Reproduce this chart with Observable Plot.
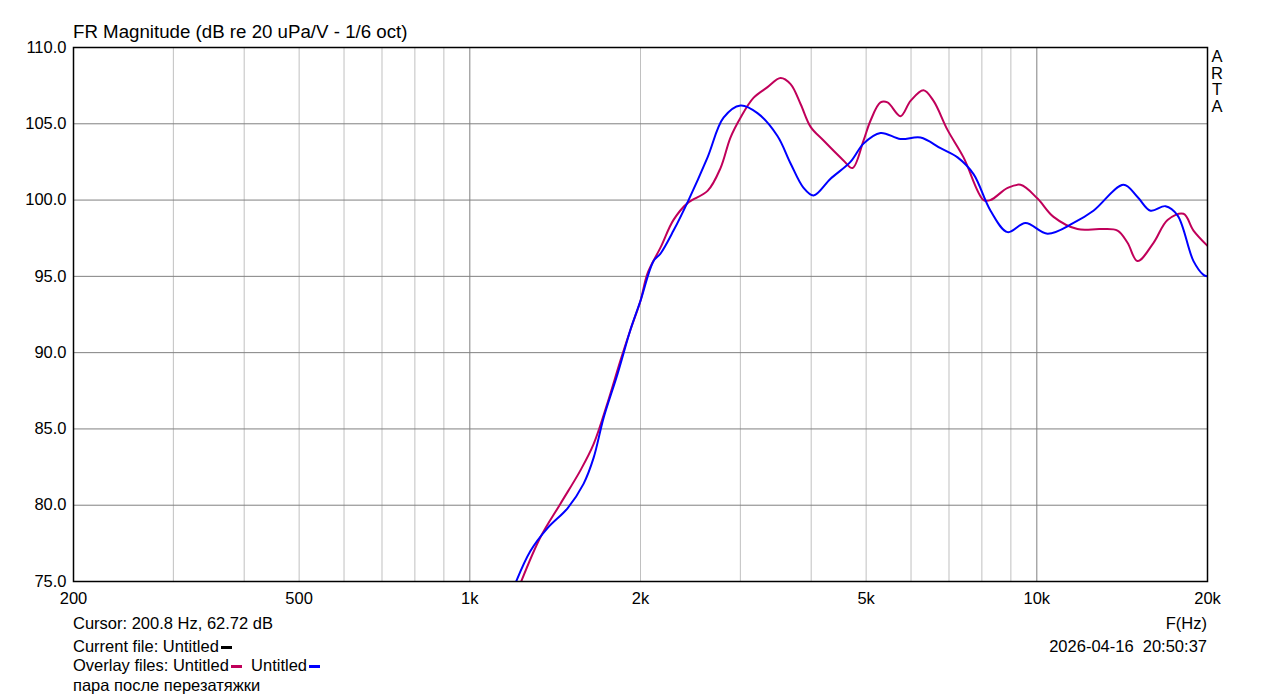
<!DOCTYPE html>
<html>
<head>
<meta charset="utf-8">
<script src="https://cdn.jsdelivr.net/npm/d3@7"></script>
<script src="https://cdn.jsdelivr.net/npm/@observablehq/plot@0.6"></script>
<style>
  body { margin:0; background:#fff; font-family:"Liberation Sans", Arial, sans-serif; }
  #wrap { position:relative; width:1279px; height:699px; overflow:hidden; }
  #chart { position:absolute; left:0; top:0; }
  .t { position:absolute; font-size:16.5px; color:#000; white-space:pre; line-height:1; }
  .mk { display:inline-block; width:11px; height:3px; vertical-align:middle; margin-left:2px; }
</style>
</head>
<body>
<div id="wrap">
  <div id="chart"></div>
  <div class="t" style="left:73px; top:23px; font-size:18.7px;">FR Magnitude (dB re 20 uPa/V - 1/6 oct)</div>
  <div class="t" style="left:1211px; top:48px; line-height:16.5px; font-size:16.5px; text-align:center;">A<br>R<br>T<br>A</div>
  <div class="t" style="left:73px; top:615px;">Cursor: 200.8 Hz, 62.72 dB</div>
  <div class="t" style="right:72px; top:615px;">F(Hz)</div>
  <div class="t" style="left:73px; top:638px;">Current file: Untitled<span class="mk" style="background:#000"></span></div>
  <div class="t" style="right:72px; top:638px;">2026-04-16  20:50:37</div>
  <div class="t" style="left:73px; top:657px;">Overlay files: Untitled<span class="mk" style="background:#c0005a"></span>  Untitled<span class="mk" style="background:#0000ff"></span></div>
  <div class="t" style="left:73px; top:677px;">пара после перезатяжки</div>
</div>
<script>
// Overlay 1 (crimson)
const redFreq = [1229,1332,1445,1568,1653,1749,1844,1920,2000,2058,2170,2287,2421,2626,2768,2882,3002,3164,3350,3532,3679,3831,3991,4206,4560,4730,4947,5089,5300,5454,5749,5988,6311,6574,6958,7426,8054,8287,8882,9361,10028,10704,11795,12951,13878,14454,15052,16064,17006,18142,18894,20000];
const redDb   = [74.9,77.9,80.1,82.3,84.0,86.7,89.5,91.5,93.4,95.2,96.9,98.7,99.8,100.6,102.1,104.1,105.4,106.7,107.4,108.0,107.6,106.3,104.8,103.9,102.6,102.1,103.9,105.2,106.4,106.4,105.5,106.5,107.2,106.5,104.6,102.8,100.0,100.0,100.8,101.0,100.1,98.9,98.1,98.1,98.0,97.2,96.0,97.2,98.7,99.1,98.0,97.0];
// Overlay 2 (blue)
const blueFreq = [1204,1279,1371,1487,1587,1653,1721,1822,1920,2000,2109,2170,2287,2431,2626,2802,3002,3216,3488,3679,3878,4039,4327,4691,4947,5300,5749,6236,6764,7248,7734,8287,8882,9551,10446,11607,12585,14221,15052,15871,16866,17708,18894,19676,20000];
const blueDb   = [74.9,77.0,78.5,79.8,81.4,83.1,85.7,88.6,91.5,93.4,96.0,96.5,98.0,100.0,102.8,105.4,106.2,105.7,104.2,102.4,100.8,100.3,101.4,102.5,103.7,104.4,104.0,104.1,103.4,102.8,101.7,99.3,97.9,98.5,97.8,98.5,99.3,101.0,100.2,99.3,99.6,99.0,96.0,95.1,95.0];

const xTicks = [200,500,1000,2000,5000,10000,20000];
const xTickLabels = ["200","500","1k","2k","5k","10k","20k"];
const yTicks = [75,80,85,90,95,100,105,110];
const minorGridX = [300,400,500,600,700,800,900,2000,3000,4000,5000,6000,7000,8000,9000];
const majorGridX = [1000,10000];
const gridY = [80,85,90,95,100,105];

const red = redFreq.map((f,i)=>({f, db:redDb[i]}));
const blue = blueFreq.map((f,i)=>({f, db:blueDb[i]}));

const chart = Plot.plot({
  width:1279, height:699,
  marginLeft:73, marginRight:72, marginTop:47, marginBottom:118,
  style:{fontFamily:"Liberation Sans, Arial, sans-serif", fontSize:"16.5px", color:"#000", background:"transparent"},
  x:{type:"log", domain:[200,20000], ticks:xTicks, tickFormat:(d)=>xTickLabels[xTicks.indexOf(d)], tickSize:0, tickPadding:11, label:null},
  y:{domain:[75,110], ticks:yTicks, tickFormat:(d)=>d.toFixed(1), tickSize:0, tickPadding:7, label:null},
  marks:[
    Plot.ruleX(minorGridX, {stroke:"#c0c0c0", strokeWidth:1}),
    Plot.ruleX(majorGridX, {stroke:"#808080", strokeWidth:1}),
    Plot.ruleY(gridY, {stroke:"#808080", strokeWidth:1}),
    Plot.line(red, {x:"f", y:"db", stroke:"#c0005a", strokeWidth:2, curve:"catmull-rom", clip:true}),
    Plot.line(blue, {x:"f", y:"db", stroke:"#0000ff", strokeWidth:2, curve:"catmull-rom", clip:true}),
    Plot.frame({stroke:"#000", strokeWidth:1.5})
  ]
});
document.getElementById("chart").appendChild(chart);
</script>
</body>
</html>
